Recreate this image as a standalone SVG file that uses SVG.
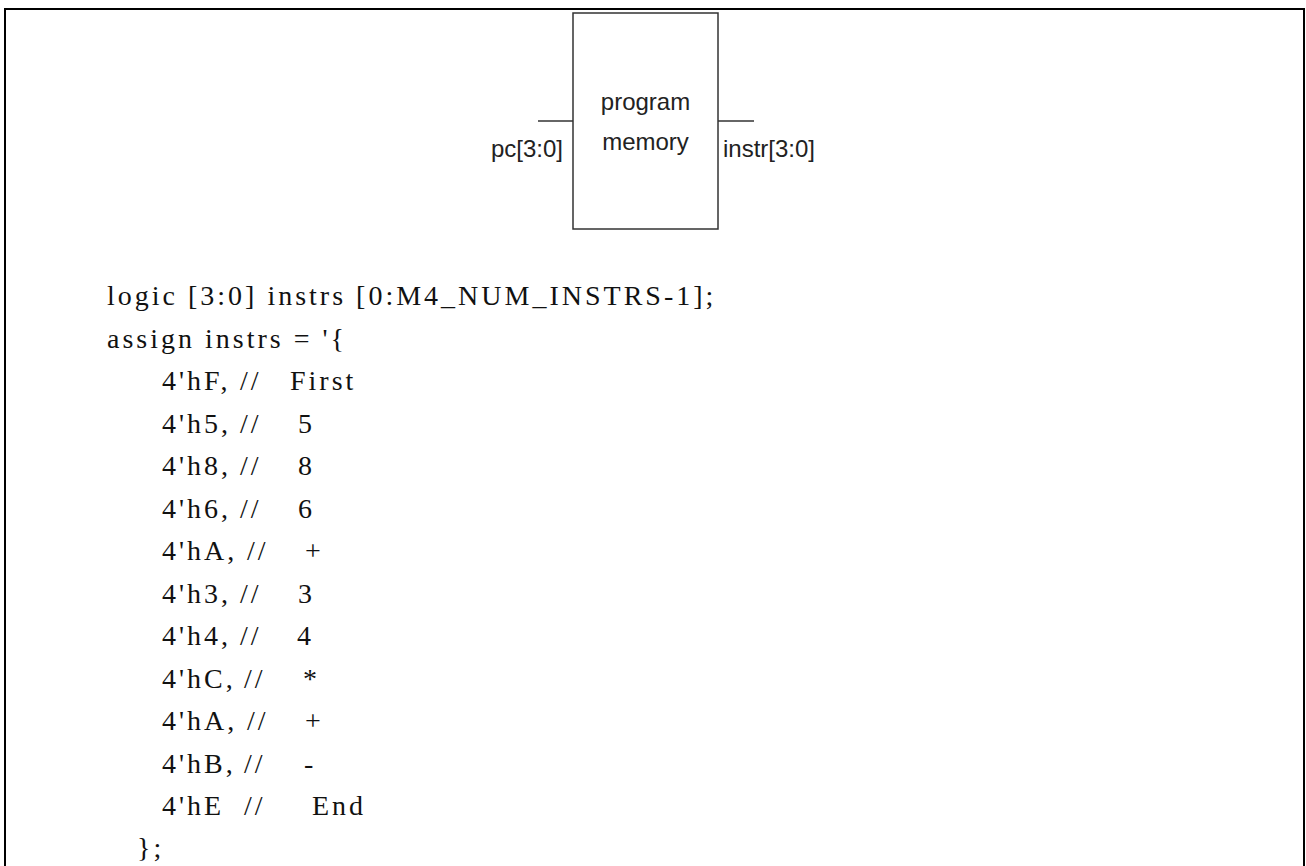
<svg xmlns="http://www.w3.org/2000/svg" width="1306" height="866" viewBox="0 0 1306 866">
  <style>
    .frame { fill: none; stroke: #000; stroke-width: 2; }
    .block { fill: #fff; stroke: #333; stroke-width: 1.5; }
    .wire { fill: none; stroke: #333; stroke-width: 1.5; }
    .sans { font-family: "Liberation Sans", Arial, sans-serif; font-size: 24px; fill: #222; }
    .code { font-family: "Liberation Serif", "Times New Roman", serif; font-size: 28px; fill: #111; letter-spacing: 3px; }
  </style>
  <rect width="1306" height="866" fill="#fff"/>
  <!-- page frame, open at the bottom -->
  <rect class="frame" x="5" y="9" width="1299" height="900"/>

  <g id="program-memory">
    <rect class="block" x="573" y="13" width="145" height="216"/>
    <text class="sans" x="645.5" y="110" text-anchor="middle">program</text>
    <text class="sans" x="645.5" y="150" text-anchor="middle">memory</text>
  </g>

  <g id="connectors">
    <line class="wire" x1="538" y1="121" x2="573" y2="121"/>
    <line class="wire" x1="718" y1="121" x2="754" y2="121"/>
  </g>

  <g id="pc-port">
    <text class="sans" x="563" y="157" text-anchor="end">pc[3:0]</text>
  </g>
  <g id="instr-port">
    <text class="sans" x="723" y="157">instr[3:0]</text>
  </g>

  <g id="code">
    <text class="code" x="107" y="305">logic [3:0] instrs [0:M4_NUM_INSTRS-1];</text>
    <text class="code" x="107" y="347.5">assign instrs = '{</text>
    <text class="code" y="390"><tspan x="162">4'hF,</tspan><tspan x="240">//</tspan><tspan x="290">First</tspan></text>
    <text class="code" y="432.5"><tspan x="162">4'h5,</tspan><tspan x="240">//</tspan><tspan x="298">5</tspan></text>
    <text class="code" y="475"><tspan x="162">4'h8,</tspan><tspan x="240">//</tspan><tspan x="298">8</tspan></text>
    <text class="code" y="517.5"><tspan x="162">4'h6,</tspan><tspan x="240">//</tspan><tspan x="298">6</tspan></text>
    <text class="code" y="560"><tspan x="162">4'hA,</tspan><tspan x="247">//</tspan><tspan x="305">+</tspan></text>
    <text class="code" y="602.5"><tspan x="162">4'h3,</tspan><tspan x="240">//</tspan><tspan x="298">3</tspan></text>
    <text class="code" y="645"><tspan x="162">4'h4,</tspan><tspan x="240">//</tspan><tspan x="297">4</tspan></text>
    <text class="code" y="687.5"><tspan x="162">4'hC,</tspan><tspan x="244">//</tspan><tspan x="303">*</tspan></text>
    <text class="code" y="730"><tspan x="162">4'hA,</tspan><tspan x="247">//</tspan><tspan x="305">+</tspan></text>
    <text class="code" y="772.5"><tspan x="162">4'hB,</tspan><tspan x="244">//</tspan><tspan x="304">-</tspan></text>
    <text class="code" y="815"><tspan x="162">4'hE</tspan><tspan x="244">//</tspan><tspan x="312">End</tspan></text>
    <text class="code" x="137" y="857">};</text>
  </g>
</svg>
